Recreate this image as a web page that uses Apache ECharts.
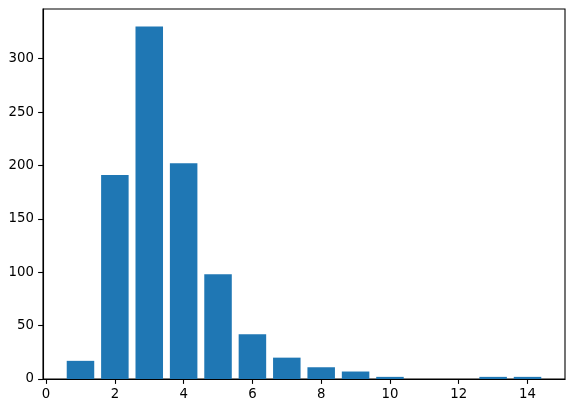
<!DOCTYPE html>
<html>
<head>
<meta charset="utf-8">
<script src="https://cdn.jsdelivr.net/npm/echarts@6/dist/echarts.min.js"></script>
<style>
html,body{margin:0;padding:0;background:#fff;}
#chart{width:573px;height:411px;}
</style>
</head>
<body>
<div id="chart"></div>
<script>
var categories = [1, 2, 3, 4, 5, 6, 7, 8, 9, 10, 11, 12, 13, 14];
var counts = [17, 191, 330, 202, 98, 42, 20, 11, 7, 2, 0, 0, 2, 2];
var xTicks = [0, 2, 4, 6, 8, 10, 12, 14];
var yTicks = [0, 50, 100, 150, 200, 250, 300];
var barWidth = 0.8;

var data = categories.map(function (c, i) { return [c, counts[i]]; });

var chart = echarts.init(document.getElementById('chart'), null, {renderer: 'canvas'});
var labelStyle = {color: '#000', fontFamily: 'DejaVu Sans', fontSize: 13.3};
chart.setOption({
  animation: false,
  grid: {left: 43, right: 8, top: 9, bottom: 32, show: true, borderColor: '#000', borderWidth: 1.1, backgroundColor: 'transparent'},
  xAxis: {
    type: 'value', min: -0.09, max: 15.09,
    splitLine: {show: false},
    axisLine: {show: true, onZero: false, lineStyle: {color: '#000', width: 1.1}},
    axisTick: {show: true, length: 4.9, lineStyle: {color: '#000', width: 1.1}, customValues: xTicks},
    axisLabel: Object.assign({margin: 9, customValues: xTicks}, labelStyle)
  },
  yAxis: {
    type: 'value', min: 0, max: 346.5,
    splitLine: {show: false},
    axisLine: {show: true, onZero: false, lineStyle: {color: '#000', width: 1.1}},
    axisTick: {show: true, length: 4.9, lineStyle: {color: '#000', width: 1.1}, customValues: yTicks},
    axisLabel: Object.assign({margin: 9, customValues: yTicks}, labelStyle)
  },
  series: [{
    type: 'custom',
    clip: true,
    data: data,
    encode: {x: 0, y: 1},
    renderItem: function (params, api) {
      var x = api.value(0), y = api.value(1);
      var p0 = api.coord([x - barWidth / 2, y]);
      var p1 = api.coord([x + barWidth / 2, 0]);
      return {
        type: 'rect',
        shape: {x: p0[0], y: p0[1], width: p1[0] - p0[0], height: p1[1] - p0[1]},
        style: {fill: '#1f77b4', stroke: null, lineWidth: 0}
      };
    }
  }]
});
</script>
</body>
</html>
